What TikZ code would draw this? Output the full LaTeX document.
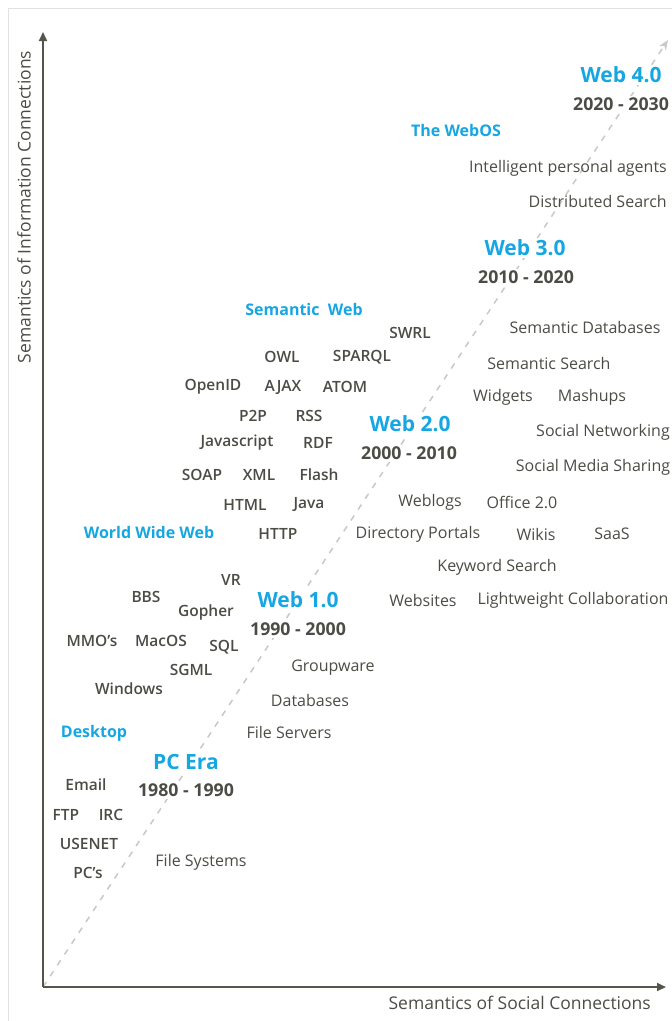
\documentclass[tikz,border=0pt]{standalone}
\usepackage{fontspec}
\setmainfont{Open Sans}
% semibold face for the technology labels, bold when it is not installed
\IfFontExistsTF{Open Sans SemiBold}
  {\newfontfamily\semibfont{Open Sans SemiBold}}
  {\IfFontExistsTF{Open Sans Semibold}
    {\newfontfamily\semibfont{Open Sans Semibold}}
    {\newcommand\semibfont{\bfseries}}}
\usetikzlibrary{arrows.meta}
\definecolor{axisgray}{RGB}{85,85,76}
\definecolor{txtgray}{RGB}{76,76,70}
\definecolor{dashgray}{RGB}{200,200,200}
\definecolor{framegray}{RGB}{226,226,226}
\definecolor{webblue}{RGB}{22,166,226}
\tikzset{
  item/.style={text=txtgray, font=\fontsize{16}{19}\selectfont, inner sep=1pt},
  tech/.style={text=txtgray, font=\fontsize{15.5}{18}\selectfont\semibfont, inner sep=1pt},
  topic/.style={text=webblue, font=\fontsize{16}{19}\selectfont\bfseries, inner sep=1pt},
  era/.style={text=webblue, font=\fontsize{21}{24}\selectfont\bfseries, fill=white, inner sep=2pt},
  years/.style={text=txtgray, font=\fontsize{17.7}{21}\selectfont\bfseries, fill=white, inner sep=2pt},
  axislabel/.style={text=txtgray, font=\fontsize{17.5}{21}\selectfont, inner sep=1pt},
  axisline/.style={draw=axisgray, line width=2pt, -{Triangle[length=9pt,width=8pt]}},
  trend/.style={draw=dashgray, line width=1.5pt, dash pattern=on 6pt off 7pt, -{Stealth[length=10pt,width=8pt]}},
}
\begin{document}
\begin{tikzpicture}[x=1pt, y=-1pt]
\useasboundingbox (0,0) rectangle (672,1021);
% thin frame along the top and left edges
\draw[framegray, line width=1pt] (8.5,1021) -- (8.5,8.5) -- (672,8.5);

% axes
\coordinate (O) at (43,987);
\coordinate (ytop) at (43,32);
\coordinate (xend) at (666,987);
\coordinate (tip) at (668,40);
\draw[trend] (O) -- (tip);
\draw[axisline] (O) -- (ytop);
\draw[axisline] (O) -- (xend);
\node[axislabel, anchor=east] (xl) at (652,1003) {Semantics of Social Connections};
\node[axislabel, rotate=90] (yl) at (24,207) {Semantics of Information Connections};

% eras
\node[era] (w4) at (621,75) {Web 4.0};
\node[years] (y4) at (621,104) {2020 - 2030};
\node[era] (w3) at (525,248) {Web 3.0};
\node[years] (y3) at (526,277) {2010 - 2020};
\node[era] (w2) at (410,424) {Web 2.0};
\node[years] (y2) at (409,453) {2000 - 2010};
\node[era] (w1) at (298,600) {Web 1.0};
\node[years] (y1) at (298,629) {1990 - 2000};
\node[era] (pc) at (186,762) {PC Era};
\node[years] (y0) at (186,790) {1980 - 1990};

% topics
\node[topic] (webos) at (456,130) {The WebOS};
\node[topic] (semweb) at (304,309) {Semantic\ \ Web};
\node[topic] (www) at (149,532) {World Wide Web};
\node[topic] (desk) at (94,733) {Desktop};

% social side
\node[item, anchor=east] (ipa) at (668,168) {Intelligent personal agents};
\node[item, anchor=east] (ds) at (668,201) {Distributed Search};
\node[item] (sdb) at (585,327) {Semantic Databases};
\node[item] (ss) at (549,363) {Semantic Search};
\node[item] (wid) at (503,397) {Widgets};
\node[item] (mash) at (592,397) {Mashups};
\node[item] (sn) at (603,432) {Social Networking};
\node[item] (sms) at (593,467) {Social Media Sharing};
\node[item] (blog) at (430,502) {Weblogs};
\node[item] (off) at (522,502) {Office 2.0};
\node[item] (dp) at (418,534) {Directory Portals};
\node[item] (wiki) at (536,534) {Wikis};
\node[item] (saas) at (612,534) {SaaS};
\node[item] (kw) at (497,567) {Keyword Search};
\node[item] (sites) at (423,600) {Websites};
\node[item] (lwc) at (573,600) {Lightweight Collaboration};
\node[item] (gw) at (333,668) {Groupware};
\node[item] (db) at (310,700) {Databases};
\node[item] (fsrv) at (289,732) {File Servers};
\node[item] (fsys) at (201,862) {File Systems};

% information side
\node[tech] (swrl) at (410,333) {SWRL};
\node[tech] (owl) at (282,357) {OWL};
\node[tech] (sparql) at (362,357) {SPARQL};
\node[tech] (oid) at (213,387) {OpenID};
\node[tech] (ajax) at (283,387) {AJAX};
\node[tech] (atom) at (345,387) {ATOM};
\node[tech] (p2p) at (253,416) {P2P};
\node[tech] (rss) at (309,416) {RSS};
\node[tech] (js) at (237,443) {Javascript};
\node[tech] (rdf) at (318,443) {RDF};
\node[tech] (soap) at (202,475) {SOAP};
\node[tech] (xml) at (259,475) {XML};
\node[tech] (flash) at (319,475) {Flash};
\node[tech] (html) at (245,505) {HTML};
\node[tech] (java) at (309,505) {Java};
\node[tech] (http) at (278,534) {HTTP};
\node[tech] (vr) at (231,580) {VR};
\node[tech] (bbs) at (146,597) {BBS};
\node[tech] (goph) at (206,612) {Gopher};
\node[tech] (mmo) at (92,641) {MMO’s};
\node[tech] (mac) at (161,641) {MacOS};
\node[tech] (sql) at (224,647) {SQL};
\node[tech] (sgml) at (191,670) {SGML};
\node[tech] (win) at (129,689) {Windows};
\node[tech] (mail) at (86,785) {Email};
\node[tech] (ftp) at (66,815) {FTP};
\node[tech] (irc) at (111,815) {IRC};
\node[tech] (usenet) at (89,844) {USENET};
\node[tech] (pcs) at (88,873) {PC’s};
\end{tikzpicture}
\end{document}
